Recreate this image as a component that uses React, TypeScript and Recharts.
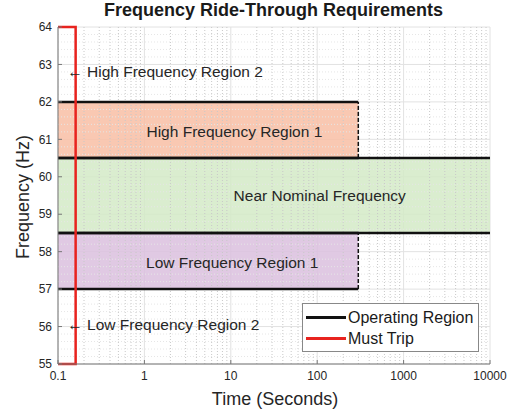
import React from 'react'
import {
  ComposedChart,
  Line,
  XAxis,
  YAxis,
  CartesianGrid,
  ReferenceArea,
  ReferenceLine,
  ReferenceDot,
  Label,
} from 'recharts'

const xTicks = [0.1, 1, 10, 100, 1000, 10000]
const yTicks = [55, 56, 57, 58, 59, 60, 61, 62, 63, 64]
const yMinorTicks = [
  55.2, 55.4, 55.6, 55.8, 56.2, 56.4, 56.6, 56.8, 57.2, 57.4, 57.6, 57.8,
  58.2, 58.4, 58.6, 58.8, 59.2, 59.4, 59.6, 59.8, 60.2, 60.4, 60.6, 60.8,
  61.2, 61.4, 61.6, 61.8, 62.2, 62.4, 62.6, 62.8, 63.2, 63.4, 63.6, 63.8,
]
const xMinorTicks = [
  0.2, 0.3, 0.4, 0.5, 0.6, 0.7, 0.8, 0.9,
  2, 3, 4, 5, 6, 7, 8, 9,
  20, 30, 40, 50, 60, 70, 80, 90,
  200, 300, 400, 500, 600, 700, 800, 900,
  2000, 3000, 4000, 5000, 6000, 7000, 8000, 9000,
]

// operating regions
const regionNames = ['High Frequency Region 1', 'Near Nominal Frequency', 'Low Frequency Region 1']
const regionLow = [60.5, 58.5, 57]
const regionHigh = [62, 60.5, 58.5]
const regionStart = 0.1
const regionEnd = [299, 10000, 299]
const regionLabelX = [11, 107, 10.4]
const regionLabelY = [61.2, 59.5, 57.7]
const regionColors = ['#F8BEA4', '#D4EAC7', '#DBC0DE']

// must trip boundary (0.1 s -> 0.16 s, 55-64 Hz)
const tripX = [0.1, 0.16, 0.16, 0.1]
const tripY = [64, 64, 55, 55]
const tripPath = tripX.map((x, i) => ({ x, y: tripY[i] }))

const outerNames = ['High Frequency Region 2', 'Low Frequency Region 2']
const outerY = [62.8, 56.05]
const outerX = 0.128

const legendNames = ['Operating Region', 'Must Trip']
const legendColors = ['#111111', '#E8231F']

const FONT = '"Liberation Sans", Arial, sans-serif'
const TEXT = '#262626'

export default function App() {
  return (
    <div style={{ position: 'absolute', left: 0, top: 0, width: 514, height: 417, fontFamily: FONT, background: '#fff' }}>
      <div style={{ position: 'absolute', left: 0, top: 0, width: 547, textAlign: 'center', fontSize: 18, fontWeight: 'bold', color: '#1a1a1a' }}>
        Frequency Ride-Through Requirements
      </div>
      <div style={{ position: 'absolute', left: 0, top: 389, width: 550, textAlign: 'center', fontSize: 18, color: TEXT }}>
        Time (Seconds)
      </div>
      <div
        style={{
          position: 'absolute',
          left: 23,
          top: 197,
          transform: 'translate(-50%, -50%) rotate(-90deg)',
          whiteSpace: 'nowrap',
          fontSize: 18,
          color: TEXT,
        }}
      >
        Frequency (Hz)
      </div>

      <ComposedChart width={514} height={417} margin={{ top: 27, right: 24, bottom: 33, left: 28 }}>
        <CartesianGrid stroke="#e2e2e2" strokeWidth={1} />
        <XAxis
          type="number"
          dataKey="x"
          scale="log"
          domain={[0.1, 10000]}
          ticks={xTicks}
          height={20}
          stroke="#777"
          tickSize={-4}
          tickMargin={11}
          tick={{ fill: TEXT, fontSize: 12, fontFamily: FONT }}
          tickFormatter={(v: number) => String(v)}
        />
        <YAxis
          type="number"
          domain={[55, 64]}
          ticks={yTicks}
          width={30}
          stroke="#777"
          tickSize={-4}
          tickMargin={10}
          tick={{ fill: TEXT, fontSize: 12, fontFamily: FONT }}
        />
        <XAxis xAxisId="top" orientation="top" type="number" scale="log" domain={[0.1, 10000]} ticks={xTicks} height={0} stroke="#777" tick={false} tickSize={-4} />
        <YAxis yAxisId="right" orientation="right" type="number" domain={[55, 64]} ticks={yTicks} width={0} stroke="#777" tick={false} tickSize={-4} />

        {xMinorTicks.map((v) => (
          <ReferenceLine key={'xm' + v} x={v} stroke="#c8c8c8" strokeDasharray="1 2" />
        ))}
        {yMinorTicks.map((v) => (
          <ReferenceLine key={'ym' + v} y={v} stroke="#e6e6e6" strokeDasharray="1 2" />
        ))}

        {regionNames.map((n, i) => (
          <ReferenceArea
            key={n}
            x1={regionStart}
            x2={regionEnd[i]}
            y1={regionLow[i]}
            y2={regionHigh[i]}
            fill={regionColors[i]}
            fillOpacity={0.85}
            stroke="none"
          />
        ))}

        {regionNames.map((n, i) => (
          <ReferenceLine
            key={'top' + n}
            segment={[{ x: regionStart, y: regionHigh[i] }, { x: regionEnd[i], y: regionHigh[i] }]}
            stroke="#111"
            strokeWidth={2.5}
          />
        ))}
        {regionNames.map((n, i) => (
          <ReferenceLine
            key={'bot' + n}
            segment={[{ x: regionStart, y: regionLow[i] }, { x: regionEnd[i], y: regionLow[i] }]}
            stroke="#111"
            strokeWidth={2.5}
          />
        ))}
        {regionNames.map((n, i) =>
          regionEnd[i] < 10000 ? (
            <ReferenceLine
              key={'end' + n}
              segment={[{ x: regionEnd[i], y: regionLow[i] }, { x: regionEnd[i], y: regionHigh[i] }]}
              stroke="#111"
              strokeWidth={1.5}
              strokeDasharray="4 2"
            />
          ) : null
        )}

        <Line
          data={tripPath}
          dataKey="y"
          type="linear"
          stroke={legendColors[1]}
          strokeWidth={2.5}
          dot={false}
          activeDot={false}
          isAnimationActive={false}
        />

        {regionNames.map((n, i) => (
          <ReferenceDot key={'lbl' + n} x={regionLabelX[i]} y={regionLabelY[i]} r={0} stroke="none" fill="none">
            <Label value={n} position="center" fill={TEXT} fontSize={15.5} fontFamily={FONT} />
          </ReferenceDot>
        ))}
        {outerNames.map((n, i) => (
          <ReferenceDot key={'out' + n} x={outerX} y={outerY[i]} r={0} stroke="none" fill="none">
            <Label value={'\u2190 ' + n} position="right" offset={0} fill={TEXT} fontSize={15.5} fontFamily={FONT} />
          </ReferenceDot>
        ))}
      </ComposedChart>

      <div
        style={{
          position: 'absolute',
          left: 302,
          top: 303,
          width: 175,
          height: 47,
          border: '1px solid #888',
          background: '#fff',
        }}
      >
        {legendNames.map((n, i) => (
          <div key={n} style={{ display: 'flex', alignItems: 'center', height: 21, marginTop: i === 0 ? 3 : 0 }}>
            <div style={{ width: 40, height: 2.5, marginLeft: 3, background: legendColors[i] }} />
            <span style={{ marginLeft: 2, fontSize: 16, color: '#1a1a1a' }}>{n}</span>
          </div>
        ))}
      </div>
    </div>
  )
}
